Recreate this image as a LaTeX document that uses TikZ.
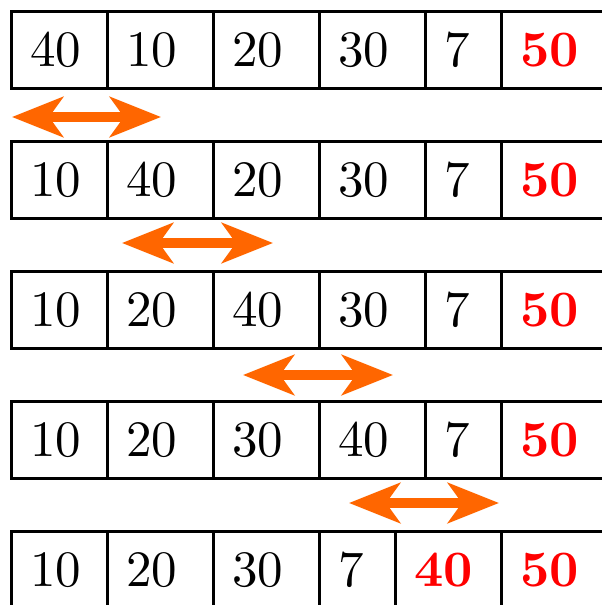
\documentclass[tikz,border=0pt]{standalone}
\usetikzlibrary{arrows.meta}
\definecolor{swaporange}{HTML}{FF6600}
\newcommand\bignum[1]{\scalebox{5.1}{\fontsize{10}{12}\selectfont #1}}
\begin{document}
\begin{tikzpicture}[x=1pt,y=-1pt,
  cell/.style={draw,line width=2.5pt,inner ysep=0pt,inner xsep=19pt,minimum height=77pt,
    anchor=north west,align=left},
  w96/.style={text width=58pt},
  w106/.style={text width=68pt},
  w76/.style={text width=38pt},
  hot/.style={text=red,font=\bfseries},
  swap/.style={draw=swaporange,line width=10pt,
    {Stealth[length=51pt,width=40pt,inset=14pt]}-{Stealth[length=51pt,width=40pt,inset=14pt]}}]
\useasboundingbox (0,0) rectangle (602,605);
\clip (0,0) rectangle (602,605);
% row 1
\node[cell,w96]  (r1c1) at (10,10) {\bignum{40}};
\node[cell,w106] (r1c2) at (106,10) {\bignum{10}};
\node[cell,w106] (r1c3) at (212,10) {\bignum{20}};
\node[cell,w106] (r1c4) at (318,10) {\bignum{30}};
\node[cell,w76]  (r1c5) at (424,10) {\bignum{7}};
\node[cell,w106,hot] (r1c6) at (500,10) {\bignum{50}};
% row 2
\node[cell,w96]  (r2c1) at (10,140) {\bignum{10}};
\node[cell,w106] (r2c2) at (106,140) {\bignum{40}};
\node[cell,w106] (r2c3) at (212,140) {\bignum{20}};
\node[cell,w106] (r2c4) at (318,140) {\bignum{30}};
\node[cell,w76]  (r2c5) at (424,140) {\bignum{7}};
\node[cell,w106,hot] (r2c6) at (500,140) {\bignum{50}};
% row 3
\node[cell,w96]  (r3c1) at (10,270) {\bignum{10}};
\node[cell,w106] (r3c2) at (106,270) {\bignum{20}};
\node[cell,w106] (r3c3) at (212,270) {\bignum{40}};
\node[cell,w106] (r3c4) at (318,270) {\bignum{30}};
\node[cell,w76]  (r3c5) at (424,270) {\bignum{7}};
\node[cell,w106,hot] (r3c6) at (500,270) {\bignum{50}};
% row 4
\node[cell,w96]  (r4c1) at (10,400) {\bignum{10}};
\node[cell,w106] (r4c2) at (106,400) {\bignum{20}};
\node[cell,w106] (r4c3) at (212,400) {\bignum{30}};
\node[cell,w106] (r4c4) at (318,400) {\bignum{40}};
\node[cell,w76]  (r4c5) at (424,400) {\bignum{7}};
\node[cell,w106,hot] (r4c6) at (500,400) {\bignum{50}};
% row 5
\node[cell,w96]  (r5c1) at (10,530) {\bignum{10}};
\node[cell,w106] (r5c2) at (106,530) {\bignum{20}};
\node[cell,w106] (r5c3) at (212,530) {\bignum{30}};
\node[cell,w76]  (r5c4) at (318,530) {\bignum{7}};
\node[cell,w106,hot] (r5c5) at (394,530) {\bignum{40}};
\node[cell,w106,hot] (r5c6) at (500,530) {\bignum{50}};
% swap arrows
\coordinate (a1l) at (12,117);  \coordinate (a1r) at (161,117);
\coordinate (a2l) at (122,243); \coordinate (a2r) at (273,243);
\coordinate (a3l) at (243,375); \coordinate (a3r) at (393,375);
\coordinate (a4l) at (349,503); \coordinate (a4r) at (499,503);
\draw[swap] (a1l) -- (a1r);
\draw[swap] (a2l) -- (a2r);
\draw[swap] (a3l) -- (a3r);
\draw[swap] (a4l) -- (a4r);
\end{tikzpicture}
\end{document}
